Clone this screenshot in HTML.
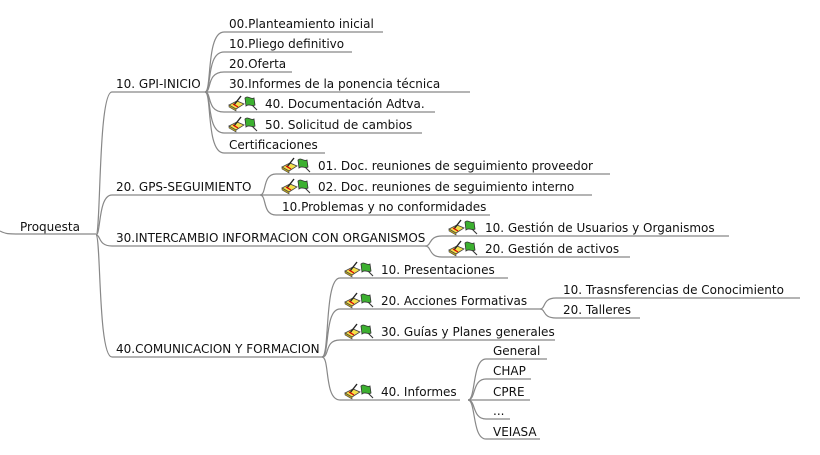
<!DOCTYPE html>
<html><head><meta charset="utf-8"><style>
html,body{margin:0;padding:0;background:#fff;}
svg{display:block}
text{font-family:"DejaVu Sans","Liberation Sans",sans-serif;font-size:12px;fill:#111}
.l{fill:none;stroke:#888;stroke-width:1.2}
</style></head><body>
<svg width="820" height="455" viewBox="0 0 820 455" xmlns="http://www.w3.org/2000/svg">
<defs>
<g id="ic">
 <polygon points="0,10 8,6 15,9 7,14" fill="#f3e04a" stroke="#444" stroke-width="0.8"/>
 <polygon points="0,10 7,14 7,16 0,12" fill="#b8a020" stroke="#444" stroke-width="0.6"/>
 <line x1="5" y1="10" x2="12" y2="1" stroke="#222" stroke-width="1.4"/>
 <line x1="4" y1="9" x2="9" y2="12" stroke="#d00" stroke-width="1.3"/>
 <line x1="16" y1="3" x2="28" y2="15" stroke="#333" stroke-width="1.1"/>
 <path d="M16,3 C19,0 22,5 25,3 L26,10 C23,12 20,8 17,11 Z" fill="#3cb030" stroke="#333" stroke-width="0.8"/>
</g>
</defs>
<text x="20" y="231">Proquesta</text>
<g class="l">
<path d="M0,231 C6,234 8,234 20,234 L96,234"/>
<path d="M96,235 C101,235 98,92 112,92 L205,92"/>
<path d="M96,235 C101,235 98,195 112,195 L260,195"/>
<path d="M96,235 C101,235 98,246 112,246 L425,246"/>
<path d="M96,235 C101,235 98,357 112,357 L322,357"/>
<path d="M205,92 C212,92 206,32 224,32 L383,32"/>
<path d="M205,92 C212,92 206,52 224,52 L352,52"/>
<path d="M205,92 C212,92 206,72 224,72 L292,72"/>
<path d="M205,92 L470,92"/>
<path d="M205,92 C212,92 206,112 224,112 L435,112"/>
<path d="M205,92 C212,92 206,133 224,133 L422,133"/>
<path d="M205,92 C212,92 206,153 224,153 L325,153"/>
<path d="M260,195 C267,195 262,174 276,174 L610,174"/>
<path d="M260,195 L592,195"/>
<path d="M260,195 C267,195 262,215 276,215 L490,215"/>
<path d="M425,246 C432,246 428,236 442,236 L729,236"/>
<path d="M425,246 C432,246 428,257 442,257 L630,257"/>
<path d="M322,357 C330,357 324,278 340,278 L508,278"/>
<path d="M322,357 C330,357 324,309 340,309 L540,309"/>
<path d="M322,357 C330,357 324,340 340,340 L555,340"/>
<path d="M322,357 C330,357 324,400 340,400 L460,400"/>
<path d="M540,309 C546,309 542,298 556,298 L800,298"/>
<path d="M540,309 C546,309 542,318 556,318 L640,318"/>
<path d="M468,400 C476,400 472,359 486,359 L547,359"/>
<path d="M468,400 C476,400 472,379 486,379 L531,379"/>
<path d="M468,400 L530,400"/>
<path d="M468,400 C476,400 472,419 486,419 L510,419"/>
<path d="M468,400 C476,400 472,439 486,439 L540,439"/>
</g>
<text x="116" y="88">10. GPI-INICIO</text>
<text x="116" y="191">20. GPS-SEGUIMIENTO</text>
<text x="116" y="242">30.INTERCAMBIO INFORMACION CON ORGANISMOS</text>
<text x="116" y="353">40.COMUNICACION Y FORMACION</text>

<text x="229" y="28">00.Planteamiento inicial</text>
<text x="229" y="48">10.Pliego definitivo</text>
<text x="229" y="68">20.Oferta</text>
<text x="229" y="88">30.Informes de la ponencia técnica</text>
<use href="#ic" x="229" y="95"/><text x="265" y="108">40. Documentación Adtva.</text>
<use href="#ic" x="229" y="116"/><text x="265" y="129">50. Solicitud de cambios</text>
<text x="229" y="149">Certificaciones</text>

<use href="#ic" x="282" y="157"/><text x="318" y="170">01. Doc. reuniones de seguimiento proveedor</text>
<use href="#ic" x="282" y="178"/><text x="318" y="191">02. Doc. reuniones de seguimiento interno</text>
<text x="282" y="211">10.Problemas y no conformidades</text>

<use href="#ic" x="449" y="219"/><text x="485" y="232">10. Gestión de Usuarios y Organismos</text>
<use href="#ic" x="449" y="240"/><text x="485" y="253">20. Gestión de activos</text>

<use href="#ic" x="345" y="261"/><text x="381" y="274">10. Presentaciones</text>
<use href="#ic" x="345" y="292"/><text x="381" y="305">20. Acciones Formativas</text>
<use href="#ic" x="345" y="323"/><text x="381" y="336">30. Guías y Planes generales</text>
<use href="#ic" x="345" y="383"/><text x="381" y="396">40. Informes</text>

<text x="563" y="294">10. Trasnsferencias de Conocimiento</text>
<text x="563" y="314">20. Talleres</text>

<text x="493" y="355">General</text>
<text x="493" y="375">CHAP</text>
<text x="493" y="396">CPRE</text>
<text x="493" y="415">...</text>
<text x="493" y="436">VEIASA</text>
</svg>
</body></html>
